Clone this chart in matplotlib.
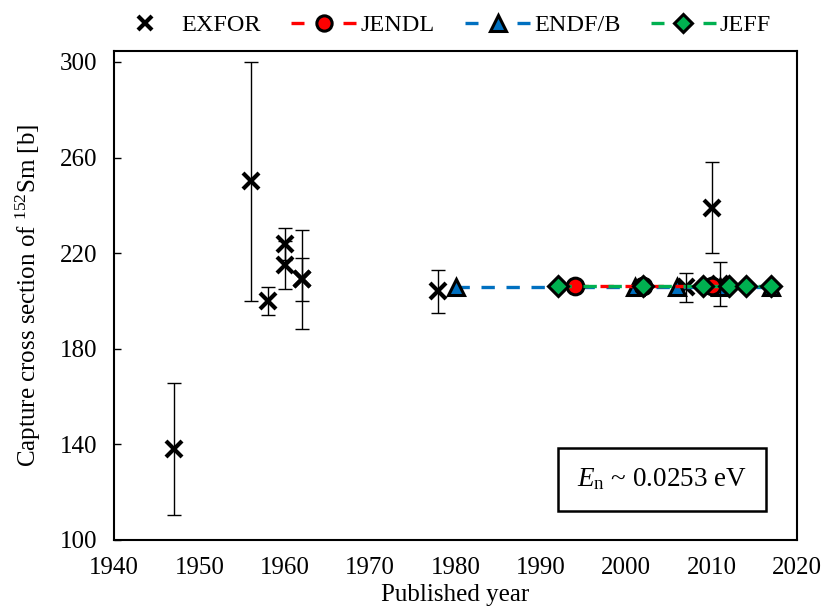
import numpy as np
import matplotlib
matplotlib.use("Agg")
import matplotlib.pyplot as plt
from matplotlib.lines import Line2D

plt.rcParams['font.family'] = ['Liberation Serif', 'DejaVu Serif']
plt.rcParams['mathtext.fontset'] = 'custom'
plt.rcParams['mathtext.rm'] = 'Liberation Serif'
plt.rcParams['mathtext.it'] = 'Liberation Serif:italic'

# EXFOR measurements
exfor_year = [1947, 1956, 1958, 1960, 1960, 1962, 1962, 1978, 2007, 2010, 2011]
exfor_xs = [138, 250, 200, 224, 215, 209, 209, 204, 205.7, 239, 207]
exfor_err = [27.6, 50, 6, 6.7, 10, 9, 20.6, 9, 6, 19, 9.2]

# evaluated libraries
jendl_year = [1994, 2002, 2010]
jendl_xs = [206.1, 206.1, 206.1]
endfb_year = [1980, 2001, 2006, 2011, 2017]
endfb_xs = [206.0, 206.0, 206.0, 206.0, 206.0]
jeff_year = [1992, 2002, 2009, 2012, 2014, 2017]
jeff_xs = [206.2, 206.2, 206.2, 206.2, 206.2, 206.2]

red = '#FF0000'
blue = '#0070C0'
green = '#00B050'
fs = 18
lw = 2.4
dash = (4, 3.5)

fig = plt.figure(figsize=(8.24, 6.12), dpi=100)
ax = fig.add_axes([114/824, 1-540/612, 683/824, 489/612])

ax.errorbar(exfor_year, exfor_xs, yerr=exfor_err, fmt='none', ecolor='black',
            elinewidth=1.0, capsize=5, capthick=1.0, zorder=6)
ax.plot(exfor_year, exfor_xs, linestyle='none', marker='x', markersize=12,
        markeredgewidth=3, color='black', zorder=2)

ax.plot(endfb_year, endfb_xs, linestyle=(0, dash), color=blue, linewidth=lw,
        marker='^', markersize=12, markerfacecolor=blue, markeredgecolor='black',
        markeredgewidth=2.2, zorder=3)
ax.plot(jendl_year, jendl_xs, linestyle=(0, dash), color=red, linewidth=lw,
        marker='o', markersize=12, markerfacecolor=red, markeredgecolor='black',
        markeredgewidth=2.2, zorder=4)
ax.plot(jeff_year, jeff_xs, linestyle=(0, dash), color=green, linewidth=lw,
        marker='D', markersize=10, markerfacecolor=green, markeredgecolor='black',
        markeredgewidth=2.2, zorder=5)

ax.set_xlim(1940, 2020)
ax.set_ylim(100, 304.6)
ax.set_xticks(np.arange(1940, 2021, 10))
ax.set_yticks(np.arange(100, 301, 40))
ax.tick_params(axis='y', direction='in', labelsize=fs, length=5, width=1, pad=12)
ax.tick_params(axis='x', direction='in', labelsize=fs, length=0, width=1, pad=12)
for s in ax.spines.values():
    s.set_linewidth(1.5)

ax.set_xlabel('Published year', fontsize=fs, labelpad=4)
ax.set_ylabel(r'Capture cross section of $^{152}$Sm [b]', fontsize=fs, labelpad=12)

ax.text(0.802, 0.1237, r'$E_\mathrm{n}$ ~ 0.0253 eV', transform=ax.transAxes,
        fontsize=19.5, ha='center', va='center',
        bbox=dict(boxstyle='square,pad=0.7', facecolor='white',
                  edgecolor='black', linewidth=1.8), zorder=10)

leg_ls = (0, (3.9, 11.7))
handles = [
    Line2D([], [], linestyle='none', marker='x', markersize=10, markeredgewidth=3,
           color='black'),
    Line2D([], [], linestyle=leg_ls, color=red, linewidth=lw, marker='o',
           markersize=11, markerfacecolor=red, markeredgecolor='black', markeredgewidth=2.2),
    Line2D([], [], linestyle=leg_ls, color=blue, linewidth=lw, marker='^',
           markersize=11, markerfacecolor=blue, markeredgecolor='black', markeredgewidth=2.2),
    Line2D([], [], linestyle=leg_ls, color=green, linewidth=lw, marker='D',
           markersize=9, markerfacecolor=green, markeredgecolor='black', markeredgewidth=2.2),
]
ax.legend(handles, ['EXFOR', 'JENDL', 'ENDF/B', 'JEFF'], ncol=4, frameon=False,
          loc='center', bbox_to_anchor=(0.480, 1.053), fontsize=17.5,
          handlelength=2.67, handletextpad=0.17, columnspacing=1.25, borderaxespad=0.0)

fig.savefig('out.png', dpi=100)
